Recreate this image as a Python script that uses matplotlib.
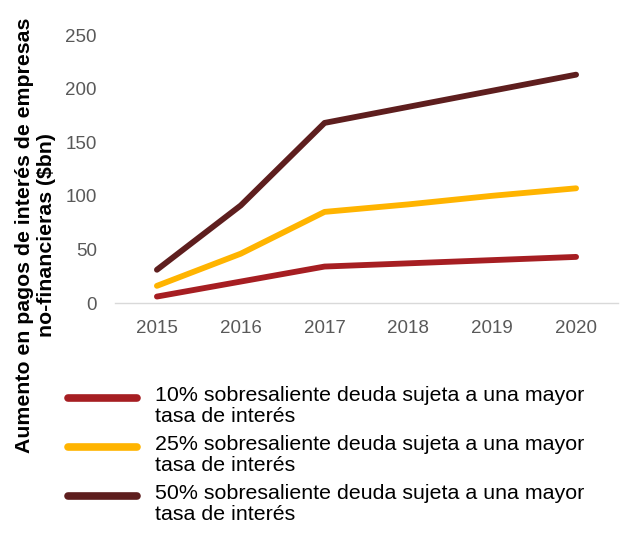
import matplotlib.pyplot as plt
from matplotlib.lines import Line2D

plt.rcParams['font.family'] = ['Liberation Sans', 'DejaVu Sans']

# ----------------------------------------------------
# DATI
# ----------------------------------------------------
years = [2015, 2016, 2017, 2018, 2019, 2020]
deuda_10 = [6, 20, 34, 37, 40, 43]
deuda_25 = [16, 46, 85, 92, 100, 107]
deuda_50 = [31, 91, 168, 183, 198, 213]

labels = [
    "10% sobresaliente deuda sujeta a una mayor\ntasa de interés",
    "25% sobresaliente deuda sujeta a una mayor\ntasa de interés",
    "50% sobresaliente deuda sujeta a una mayor\ntasa de interés",
]
colors = ["#A61E22", "#FFB400", "#5E1E1E"]
yticks = [0, 50, 100, 150, 200, 250]

fig = plt.figure(figsize=(6.29, 5.33), dpi=100)
ax = fig.add_axes([115 / 629, 1 - 303 / 533, 503 / 629, 268 / 533])

for vals, lab, col in zip([deuda_10, deuda_25, deuda_50], labels, colors):
    ax.plot(years, vals, color=col, linewidth=4.2, label=lab, solid_capstyle="round")

ax.set_xlim(2014.5, 2020.5)
ax.set_ylim(0, 250)
ax.set_yticks(yticks)
ax.set_xticks(years)
ax.tick_params(length=0, labelsize=13.5, labelcolor="#595959")
ax.tick_params(axis="x", pad=12)
ax.tick_params(axis="y", pad=13)
for s in ["left", "right", "top"]:
    ax.spines[s].set_visible(False)
ax.spines["bottom"].set_color("#d9d9d9")
ax.spines["bottom"].set_linewidth(1)

# etichetta asse y (centrata sulla figura)
fig.text(0.057, 1 - 235 / 533,
         "Aumento en pagos de interés de empresas\nno-financieras ($bn)",
         rotation=90, ha="center", va="center", multialignment="center",
         fontsize=15.3, fontweight="bold", color="black", linespacing=1.2)

# legenda manuale (linea allineata alla prima riga)
leg_y = [398, 447, 496]
for lab, col, yp in zip(labels, colors, leg_y):
    yf = 1 - yp / 533
    fig.add_artist(Line2D([68 / 629, 137 / 629], [yf, yf], color=col, linewidth=5.5,
                          solid_capstyle="round", transform=fig.transFigure))
    fig.text(155 / 629, yf + 12 / 533, lab, ha="left", va="top", fontsize=15.4,
             color="black", linespacing=1.15)

plt.savefig("out.png", dpi=100)
